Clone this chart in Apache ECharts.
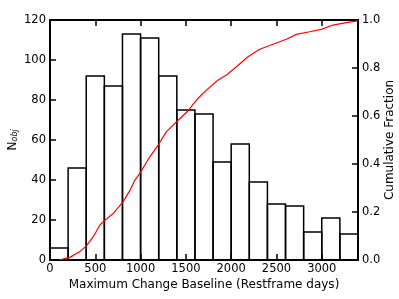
<!DOCTYPE html>
<html>
<head>
<meta charset="utf-8">
<script src="https://cdn.jsdelivr.net/npm/echarts@6/dist/echarts.min.js"></script>
<style>
html,body{margin:0;padding:0;background:#fff;}
#c{width:399px;height:299px;}
</style>
</head>
<body>
<div id="c"></div>
<script>
// Histogram bins (days) and counts
const binStarts = [0,200,400,600,800,1000,1200,1400,1600,1800,2000,2200,2400,2600,2800,3000,3200];
const binWidth = 200;
const counts = [6,46,92,87,113,111,92,75,73,49,58,39,28,27,14,21,13];
// Cumulative fraction curve
const cumX = [100,220,331,404,478,551,588,698,808,882,937,992,1102,1194,1286,1397,1525,1635,1727,1856,1948,2058,2186,2315,2462,2609,2720,2866,2995,3123,3271,3382,3395];
const cumY = [0.0,0.011,0.035,0.06,0.097,0.146,0.16,0.194,0.243,0.29,0.333,0.361,0.43,0.479,0.535,0.576,0.622,0.674,0.708,0.75,0.771,0.805,0.847,0.878,0.899,0.92,0.94,0.951,0.961,0.979,0.989,0.995,1.0];
// Tick labels
const xTicks = [0,500,1000,1500,2000,2500,3000];
const yLeftTicks = [0,20,40,60,80,100,120];
const yRightTicks = [0,0.2,0.4,0.6,0.8,1.0];

const FONT = 'DejaVu Sans';
const chart = echarts.init(document.getElementById('c'), null, {renderer:'canvas'});

const histData = binStarts.map((s,i)=>[s, s+binWidth, counts[i]]);
const lineData = cumX.map((x,i)=>[x, cumY[i]]);

const axisLineStyle = {color:'#000', width:2};
const tickStyle = {show:true, inside:true, length:6, lineStyle:{color:'#000', width:1.5}};

chart.setOption({
  animation:false,
  grid:{left:50, right:41, top:20, bottom:39, containLabel:false, outerBoundsMode:'none'},
  xAxis:[{
    type:'value', min:0, max:3400, position:'bottom',
    name:'Maximum Change Baseline (Restframe days)', nameLocation:'middle', nameGap:19,
    nameMoveOverlap:false,
    nameTextStyle:{fontFamily:FONT, fontSize:12, color:'#000'},
    axisLine:{show:true, onZero:false, lineStyle:axisLineStyle},
    axisTick:Object.assign({customValues:xTicks}, tickStyle),
    axisLabel:{customValues:xTicks, fontFamily:FONT, fontSize:11.5, color:'#000', margin:3,
      formatter:v=>String(v)},
    splitLine:{show:false}
  },{
    type:'value', min:0, max:3400, position:'top',
    axisLine:{show:true, onZero:false, lineStyle:axisLineStyle},
    axisTick:Object.assign({customValues:xTicks}, tickStyle),
    axisLabel:{show:false},
    splitLine:{show:false}
  }],
  yAxis:[{
    type:'value', min:0, max:120, interval:20, position:'left',
    name:'{n|N}{s|obj}', nameLocation:'middle', nameGap:31, nameMoveOverlap:false,
    nameTextStyle:{fontFamily:FONT, fontSize:12, color:'#000',
      rich:{n:{fontFamily:FONT, fontSize:12.5, color:'#000'},
            s:{fontFamily:FONT, fontSize:8, fontStyle:'italic', color:'#000', padding:[5,0,0,0]}}},
    axisLine:{show:true, onZero:false, lineStyle:axisLineStyle},
    axisTick:Object.assign({customValues:yLeftTicks}, tickStyle),
    axisLabel:{customValues:yLeftTicks, fontFamily:FONT, fontSize:11.5, color:'#000', margin:4,
      formatter:v=>String(v)},
    splitLine:{show:false}
  },{
    type:'value', min:0, max:1, interval:0.2, position:'right',
    name:'Cumulative Fraction', nameLocation:'middle', nameGap:26, nameRotate:90,
    nameMoveOverlap:false,
    nameTextStyle:{fontFamily:FONT, fontSize:12, color:'#000'},
    axisLine:{show:true, onZero:false, lineStyle:axisLineStyle},
    axisTick:Object.assign({customValues:yRightTicks}, tickStyle),
    axisLabel:{customValues:yRightTicks, fontFamily:FONT, fontSize:11.5, color:'#000', margin:4,
      formatter:v=>v.toFixed(1)},
    splitLine:{show:false}
  }],
  series:[{
    type:'custom', xAxisIndex:0, yAxisIndex:0,
    data:histData, encode:{x:[0,1], y:2},
    renderItem:function(params, api){
      const p0 = api.coord([api.value(0), api.value(2)]);
      const p1 = api.coord([api.value(1), 0]);
      return {type:'rect', shape:{x:p0[0], y:p0[1], width:p1[0]-p0[0], height:p1[1]-p0[1]},
        style:{fill:'rgba(255,255,255,0)', stroke:'#000', lineWidth:1.5}};
    },
    z:2
  },{
    type:'line', xAxisIndex:0, yAxisIndex:1, data:lineData,
    showSymbol:false, symbol:'none', smooth:false,
    lineStyle:{color:'#ff0000', width:1.2}, z:3
  }]
});
</script>
</body>
</html>
